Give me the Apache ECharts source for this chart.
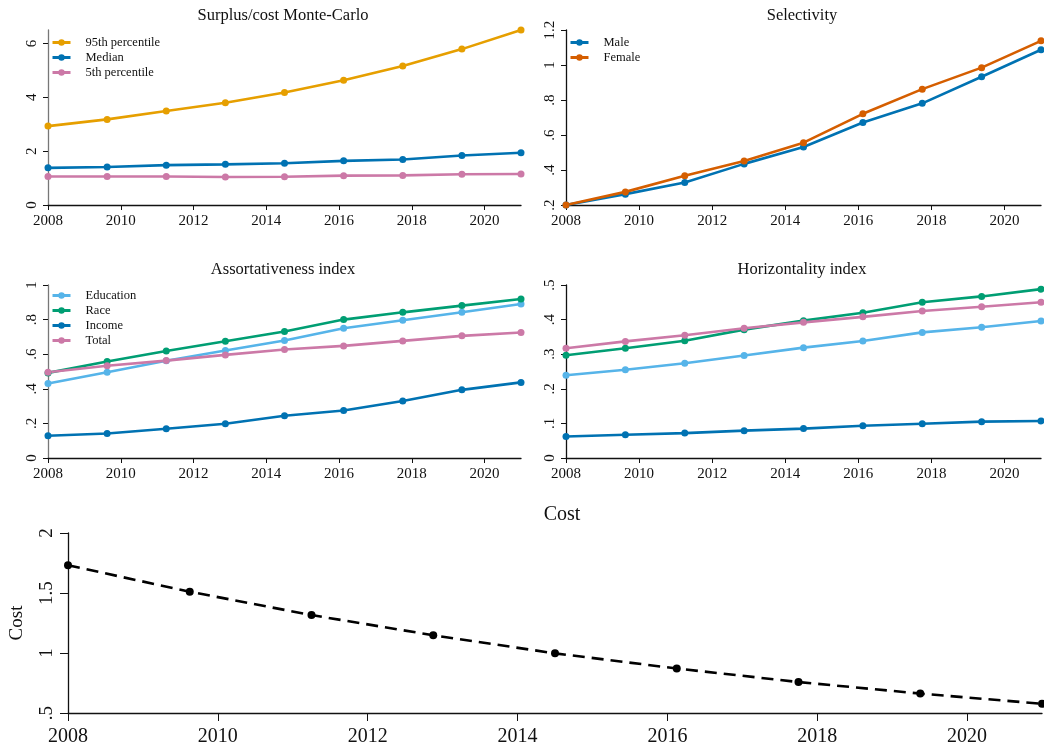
<!DOCTYPE html>
<html>
<head>
<meta charset="utf-8">
<script src="https://cdn.jsdelivr.net/npm/echarts@6/dist/echarts.min.js"></script>
<style>
  html, body { margin: 0; padding: 0; background: #fff; }
  #chart { width: 1044px; height: 747px; }
</style>
</head>
<body>
<div id="chart"></div>
<script>
// Shared time grid for every panel
const years = [2008, 2009.625, 2011.25, 2012.875, 2014.5, 2016.125, 2017.75, 2019.375, 2021];
const yearTicks = [2008, 2010, 2012, 2014, 2016, 2018, 2020];

// Surplus/cost Monte-Carlo
const p95 = [2.93, 3.18, 3.49, 3.80, 4.18, 4.63, 5.16, 5.79, 6.50];
const median = [1.38, 1.41, 1.48, 1.51, 1.55, 1.64, 1.69, 1.84, 1.94];
const p5 = [1.06, 1.06, 1.06, 1.04, 1.05, 1.09, 1.10, 1.14, 1.15];
const surplusTicks = [0, 2, 4, 6];

// Selectivity
const male = [0.200, 0.262, 0.329, 0.435, 0.531, 0.671, 0.781, 0.933, 1.087];
const female = [0.200, 0.275, 0.367, 0.452, 0.556, 0.721, 0.862, 0.985, 1.138];
const selectTicks = [0.2, 0.4, 0.6, 0.8, 1, 1.2];

// Assortativeness index
const assEducation = [0.431, 0.496, 0.562, 0.621, 0.679, 0.750, 0.796, 0.842, 0.890];
const assRace = [0.492, 0.558, 0.619, 0.675, 0.731, 0.800, 0.842, 0.881, 0.919];
const assIncome = [0.129, 0.142, 0.169, 0.198, 0.244, 0.275, 0.329, 0.394, 0.437];
const assTotal = [0.496, 0.533, 0.563, 0.596, 0.627, 0.648, 0.677, 0.706, 0.725];
const assTicks = [0, 0.2, 0.4, 0.6, 0.8, 1];

// Horizontality index
const horEducation = [0.239, 0.255, 0.274, 0.296, 0.319, 0.338, 0.363, 0.378, 0.396];
const horRace = [0.297, 0.317, 0.339, 0.371, 0.397, 0.420, 0.450, 0.467, 0.488];
const horIncome = [0.062, 0.067, 0.072, 0.079, 0.085, 0.093, 0.099, 0.105, 0.107];
const horTotal = [0.317, 0.337, 0.355, 0.375, 0.392, 0.408, 0.425, 0.437, 0.450];
const horTicks = [0, 0.1, 0.2, 0.3, 0.4, 0.5];

// Cost
const cost = [1.731, 1.511, 1.316, 1.148, 0.997, 0.871, 0.758, 0.662, 0.577];
const costTicks = [0.5, 1, 1.5, 2];

const C = {
  orange: '#E69F00', blue: '#0072B2', pink: '#CC79A7',
  vermil: '#D55E00', sky: '#56B4E9', green: '#009E73'
};
const FONT = '"Liberation Serif", "Times New Roman", serif';

const pair = (ys) => years.map((x, i) => [x, ys[i]]);
const decFmt = (v) => {
  if (v === 0) return '0';
  let s = String(+v.toFixed(2));
  if (s.startsWith('0.')) s = s.slice(1);
  return s;
};
const yearFmt = (v) => String(Math.round(v));

const grids = [
  { left: 48, top: 30, width: 473, height: 175 },
  { left: 566, top: 30, width: 475, height: 175 },
  { left: 48, top: 285, width: 473, height: 173 },
  { left: 566, top: 285, width: 475, height: 173 },
  { left: 66, top: 533, width: 976, height: 181 }
];

function xAx(gi, fs, tickLen, margin) {
  return {
    type: 'value', gridIndex: gi, min: 2008, max: 2021,
    axisLine: { show: true, onZero: false, lineStyle: { color: '#111', width: 1.3 } },
    axisTick: { show: true, length: tickLen, customValues: yearTicks, lineStyle: { color: '#111' } },
    axisLabel: { customValues: yearTicks, color: '#111', fontFamily: FONT, fontSize: fs, margin: margin, formatter: yearFmt },
    splitLine: { show: false }
  };
}
function yAx(gi, min, max, ticks, fs, tickLen, margin, lineColor, extra) {
  return Object.assign({
    type: 'value', gridIndex: gi, min: min, max: max,
    axisLine: { show: true, onZero: false, lineStyle: { color: lineColor, width: 1.3 } },
    axisTick: { show: true, length: tickLen, customValues: ticks, lineStyle: { color: '#111' } },
    axisLabel: { customValues: ticks, rotate: 90, color: '#111', fontFamily: FONT, fontSize: fs, margin: margin, formatter: decFmt },
    splitLine: { show: false }
  }, extra || {});
}

function line(name, gi, ys, color) {
  return {
    name: name, type: 'line', xAxisIndex: gi, yAxisIndex: gi,
    data: pair(ys), symbol: 'circle', symbolSize: 7, showSymbol: true,
    lineStyle: { color: color, width: 2.6 }, itemStyle: { color: color },
    z: 3, animation: false
  };
}

function legend(left, top, names) {
  return {
    orient: 'vertical', left: left, top: top, data: names, padding: 0,
    itemWidth: 18, itemHeight: 8, itemGap: 0,
    lineStyle: { width: 3 },
    textStyle: { fontFamily: FONT, fontSize: 12.5, lineHeight: 15, color: '#111', padding: [0, 0, 0, 10] },
    selectedMode: false
  };
}

const titleStyle = { fontFamily: FONT, fontSize: 16.5, fontWeight: 'normal', color: '#111' };

const option = {
  backgroundColor: '#fff',
  animation: false,
  title: [
    { text: 'Surplus/cost Monte-Carlo', left: 283, top: 7, padding: 0, textAlign: 'center', textStyle: titleStyle },
    { text: 'Selectivity', left: 802, top: 7, padding: 0, textAlign: 'center', textStyle: titleStyle },
    { text: 'Assortativeness index', left: 283, top: 261, padding: 0, textAlign: 'center', textStyle: titleStyle },
    { text: 'Horizontality index', left: 802, top: 261, padding: 0, textAlign: 'center', textStyle: titleStyle },
    { text: 'Cost', left: 562, top: 505, padding: 0, textAlign: 'center', textStyle: Object.assign({}, titleStyle, { fontSize: 20 }) }
  ],
  legend: [
    legend(51, 35, ['95th percentile', 'Median', '5th percentile']),
    legend(569, 35, ['Male', 'Female']),
    legend(51, 288, ['Education', 'Race', 'Income', 'Total'])
  ],
  grid: grids,
  xAxis: [xAx(0, 15, 5, 9), xAx(1, 15, 5, 9), xAx(2, 15, 5, 9), xAx(3, 15, 5, 9), xAx(4, 20, 8, 14)],
  yAxis: [
    yAx(0, 0, 6.5, surplusTicks, 15, 5, 8, '#777'),
    yAx(1, 0.2, 1.2, selectTicks, 15, 5, 8, '#111'),
    yAx(2, 0, 1, assTicks, 15, 5, 8, '#777'),
    yAx(3, 0, 0.5, horTicks, 15, 5, 8, '#111'),
    yAx(4, 0.5, 2, costTicks, 19, 8, 11, '#111', {
      name: 'Cost', nameLocation: 'middle', nameRotate: 90, nameGap: 41,
      nameTextStyle: { fontFamily: FONT, fontSize: 19, color: '#111' }
    })
  ],
  series: [
    line('95th percentile', 0, p95, C.orange),
    line('Median', 0, median, C.blue),
    line('5th percentile', 0, p5, C.pink),

    line('Male', 1, male, C.blue),
    line('Female', 1, female, C.vermil),

    line('Education', 2, assEducation, C.sky),
    line('Race', 2, assRace, C.green),
    line('Income', 2, assIncome, C.blue),
    line('Total', 2, assTotal, C.pink),

    line('Education', 3, horEducation, C.sky),
    line('Race', 3, horRace, C.green),
    line('Income', 3, horIncome, C.blue),
    line('Total', 3, horTotal, C.pink),

    {
      name: 'Cost', type: 'line', xAxisIndex: 4, yAxisIndex: 4, data: pair(cost),
      symbol: 'circle', symbolSize: 8,
      lineStyle: { color: '#000', width: 2.6, type: [12, 7] },
      itemStyle: { color: '#000' }, animation: false
    }
  ]
};

const chart = echarts.init(document.getElementById('chart'), null, { renderer: 'canvas' });
chart.setOption(option);
</script>
</body>
</html>
